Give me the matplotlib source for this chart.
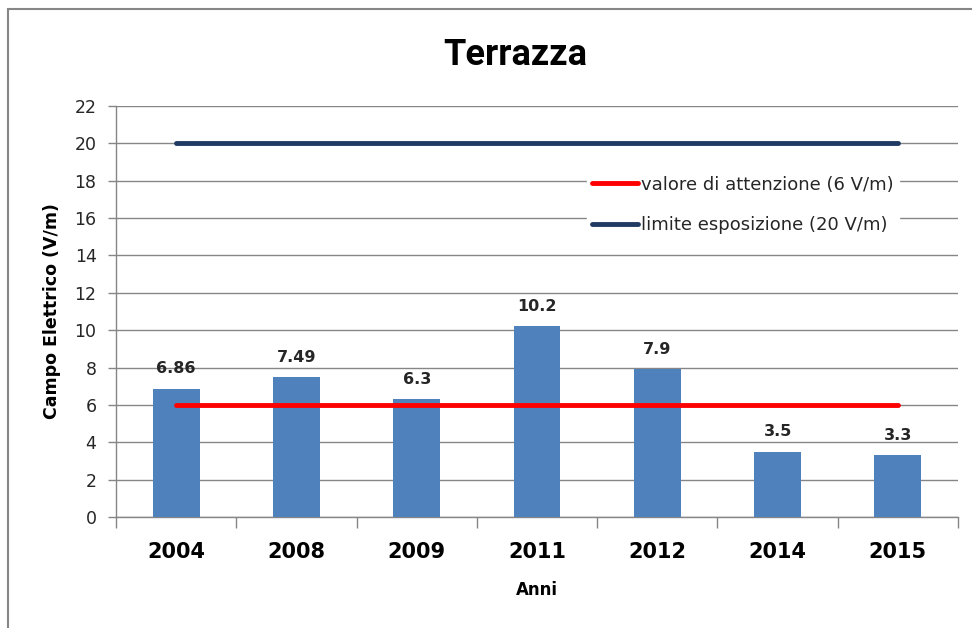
import matplotlib
matplotlib.use("Agg")
import matplotlib.pyplot as plt
from matplotlib.patches import Rectangle

years = ["2004", "2008", "2009", "2011", "2012", "2014", "2015"]
values = [6.86, 7.49, 6.3, 10.2, 7.9, 3.5, 3.3]
value_labels = ["6.86", "7.49", "6.3", "10.2", "7.9", "3.5", "3.3"]
attention_level = 6
exposure_limit = 20
yticks = list(range(0, 23, 2))

plt.rcParams["font.family"] = ["DejaVu Sans"]
DV = "DejaVu Sans"

fig = plt.figure(figsize=(9.72, 6.28), dpi=100)
W, H = 972, 628
ax = fig.add_axes([116 / W, 1 - 517 / H, (958 - 116) / W, (517 - 106) / H])

x = list(range(len(years)))
ax.bar(x, values, width=0.39, color="#4F81BD", zorder=3)
ax.plot([x[0], x[-1]], [attention_level] * 2, color="#FF0000", lw=3.5,
        solid_capstyle="round", zorder=4, label="valore di attenzione (6 V/m)")
ax.plot([x[0], x[-1]], [exposure_limit] * 2, color="#1F3B63", lw=3.5,
        solid_capstyle="round", zorder=4, label="limite esposizione (20 V/m)")

for xi, v, lab in zip(x, values, value_labels):
    ax.annotate(lab, (xi, v), xytext=(0, 9), textcoords="offset points",
                ha="center", va="bottom", fontsize=11.5, fontweight="bold",
                color="#262626", family=DV, zorder=5)

ax.set_xlim(-0.5, len(years) - 0.5)
ax.set_ylim(0, 22)
ax.set_yticks(yticks)
ax.set_yticklabels([str(t) for t in yticks], fontsize=12.5, color="#262626",
                   family=DV)
ax.set_xticks(x)
ax.set_xticklabels(years, fontsize=15, fontweight="bold", family=DV)
ax.set_xticks([i - 0.5 for i in range(len(years) + 1)], minor=True)
ax.tick_params(axis="x", which="major", length=0, pad=18)
ax.tick_params(axis="x", which="minor", length=8, color="#868686", width=1)
ax.tick_params(axis="y", length=6, color="#868686", width=1, pad=8)
ax.grid(axis="y", color="#868686", lw=1, zorder=0)
ax.set_axisbelow(True)
for s in ["top", "right"]:
    ax.spines[s].set_visible(False)
for s in ["left", "bottom"]:
    ax.spines[s].set_color("#868686")
    ax.spines[s].set_linewidth(1)

ax.set_xlabel("Anni", fontsize=12, fontweight="bold", family=DV, labelpad=14)
ax.set_ylabel("Campo Elettrico (V/m)", fontsize=12.5, fontweight="bold",
              family=DV, labelpad=10)

leg = ax.legend(loc="center left", bbox_to_anchor=(578 / W, 1 - 205 / H),
                bbox_transform=fig.transFigure, frameon=True, fancybox=False,
                edgecolor="white", facecolor="white", framealpha=1,
                prop={"family": DV, "size": 13}, handlelength=2.5,
                handletextpad=0.2, labelspacing=1.25, borderpad=0.3)
for t in leg.get_texts():
    t.set_color("#262626")

fig.text(515 / W, 1 - 55 / H, "Terrazza", ha="center", va="center",
         fontsize=26, fontweight="bold", family=["Roboto", "DejaVu Sans"])

fig.patches.append(Rectangle((8 / W, -0.1), 1.2, 1 - 9 / H + 0.1,
                             transform=fig.transFigure, fill=False,
                             edgecolor="#868686", lw=1.5))

fig.savefig("out.png", dpi=100)
